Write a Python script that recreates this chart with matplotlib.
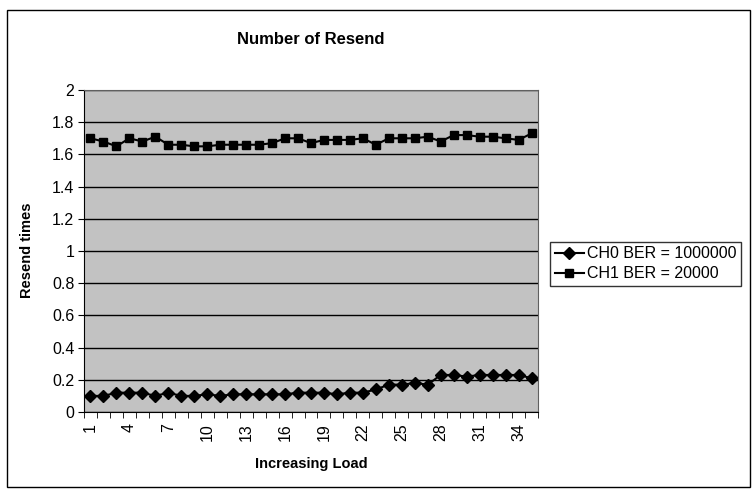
import matplotlib
matplotlib.use("Agg")
import matplotlib.pyplot as plt
from matplotlib.patches import Rectangle

plt.rcParams['font.family'] = ['Liberation Sans', 'DejaVu Sans']

# Data
load = list(range(1, 36))
ch0 = [0.10, 0.10, 0.12, 0.12, 0.12, 0.10, 0.12, 0.10, 0.10, 0.11,
       0.10, 0.11, 0.11, 0.11, 0.11, 0.11, 0.12, 0.12, 0.12, 0.11,
       0.12, 0.12, 0.14, 0.17, 0.17, 0.18, 0.17, 0.23, 0.23, 0.22,
       0.23, 0.23, 0.23, 0.23, 0.21]
ch1 = [1.70, 1.68, 1.65, 1.70, 1.68, 1.71, 1.66, 1.66, 1.65, 1.65,
       1.66, 1.66, 1.66, 1.66, 1.67, 1.70, 1.70, 1.67, 1.69, 1.69,
       1.69, 1.70, 1.66, 1.70, 1.70, 1.70, 1.71, 1.68, 1.72, 1.72,
       1.71, 1.71, 1.70, 1.69, 1.73]
series_names = ['CH0 BER = 1000000', 'CH1 BER = 20000']
y_ticks = [0, 0.2, 0.4, 0.6, 0.8, 1, 1.2, 1.4, 1.6, 1.8, 2]

fig = plt.figure(figsize=(7.52, 4.97), dpi=100)
ax = fig.add_axes([84 / 752, 1 - 412 / 497, 454 / 752, 322 / 497])
ax.set_facecolor('#c2c2c2')

ax.plot(load, ch0, color='black', lw=1.5, marker='D', markersize=6, label=series_names[0])
ax.plot(load, ch1, color='black', lw=1.5, marker='s', markersize=6, label=series_names[1])

ax.set_xlim(0.5, 35.5)
ax.set_ylim(0, 2)
ax.set_yticks(y_ticks)
ax.set_yticklabels([('%g' % v) for v in y_ticks])
ax.yaxis.grid(True, color='black', lw=1)
ax.set_axisbelow(True)

# category labels every 3rd, tick marks between categories
ax.set_xticks(load[::3])
ax.set_xticklabels([str(v) for v in load[::3]], rotation=90)
ax.set_xticks([v + 0.5 for v in range(0, 36)], minor=True)
ax.tick_params(axis='x', which='major', length=0, pad=8, labelsize=11.5)
ax.tick_params(axis='x', which='minor', length=4, direction='out')
ax.tick_params(axis='y', length=4, direction='out', labelsize=11.5, pad=3)

for s in ['top', 'right']:
    ax.spines[s].set_color('#606060')
ax.spines['left'].set_color('black')
ax.spines['bottom'].set_color('black')

fig.text(27 / 752, 1 - 250 / 497, 'Resend times', fontsize=10.5, fontweight='bold',
         ha='center', va='center', rotation=90)
fig.text(311 / 752, 1 - 464 / 497, 'Increasing Load', fontsize=10.5, fontweight='bold',
         ha='center', va='center')
fig.text(311 / 752, 1 - 40 / 497, 'Number of Resend', fontsize=12, fontweight='bold',
         ha='center', va='center')

leg = fig.legend(loc='lower left', bbox_to_anchor=(550 / 752, 1 - 286 / 497),
                 fontsize=11.5, frameon=True, fancybox=False, borderpad=0.3,
                 handlelength=1.8, handletextpad=0.2, labelspacing=0.3,
                 borderaxespad=0)
leg.get_frame().set_edgecolor('black')
leg.get_frame().set_linewidth(1)

# outer chart border
fig.patches.append(Rectangle((7 / 752, 1 - 487 / 497), 743 / 752, 477 / 497,
                             transform=fig.transFigure, fill=False,
                             edgecolor='black', lw=1))

fig.savefig('out.png', dpi=100)
